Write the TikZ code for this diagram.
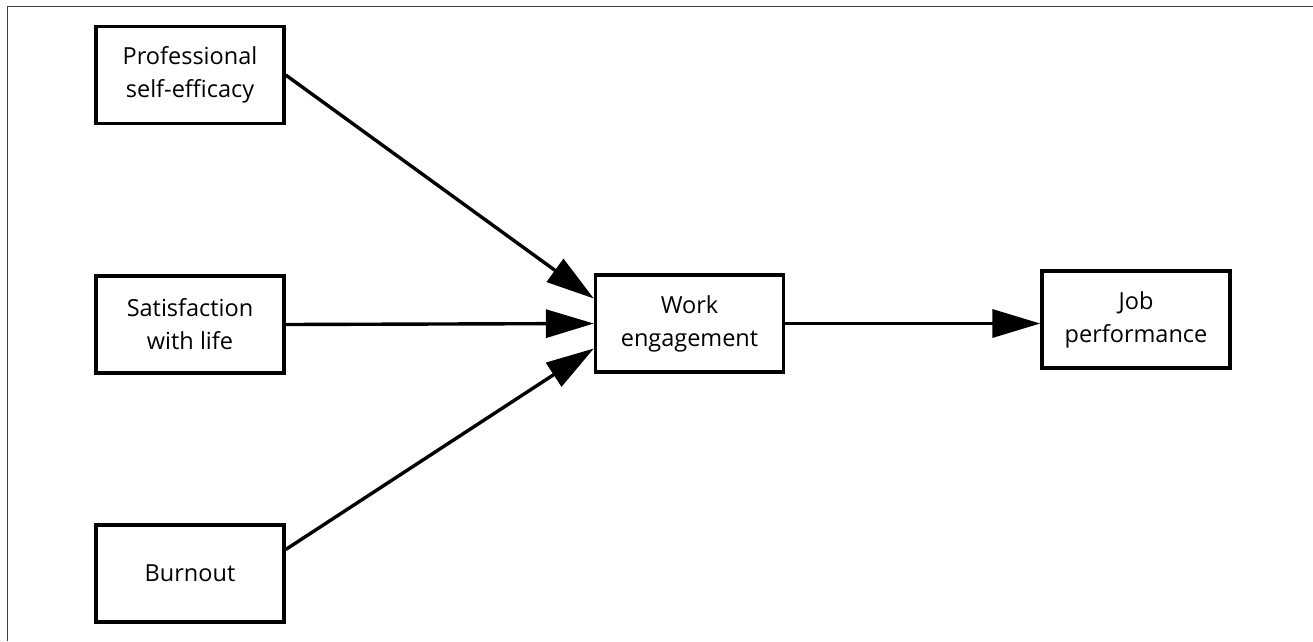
\documentclass[tikz,border=0pt]{standalone}
\usepackage{fontspec}
\setmainfont{Open Sans}
\usetikzlibrary{arrows.meta,positioning,calc}

\begin{document}
\begin{tikzpicture}[x=1pt, y=-1pt,
    box/.style={draw, line width=3.4pt, minimum width=188pt,
      minimum height=97pt, inner sep=0pt, align=center,
      font=\fontsize{23.5}{33}\selectfont},
    link/.style={line width=3.4pt, -{Triangle[length=48pt, width=28pt]}}]
  \useasboundingbox (0,0) rectangle (1313,641);
  % frame
  \draw[line width=1.8pt, black!75] (7.5,641) -- (7.5,6.5) -- (1313,6.5);
  % causes
  \node[box] (prof) at (190,75) {Professional\\self-efficacy};
  \node[box] (sat) at (190,324.5) {Satisfaction\\with life};
  \node[box] (burn) at (190,573.5) {Burnout};
  % outcomes
  \node[box] (work) at (689.5,323.5) {Work\\engagement};
  \node[box] (job) at (1136,319.5) {Job\\performance};
  % paths
  \draw[link] (prof.east) -- ([yshift=25pt]work.west);
  \draw[link] (sat.east) -- (work.west);
  \draw[link] ([yshift=24pt]burn.east) -- ([yshift=-25pt]work.west);
  \draw[link] (work.east) -- (work.east -| job.west);
\end{tikzpicture}
\end{document}
